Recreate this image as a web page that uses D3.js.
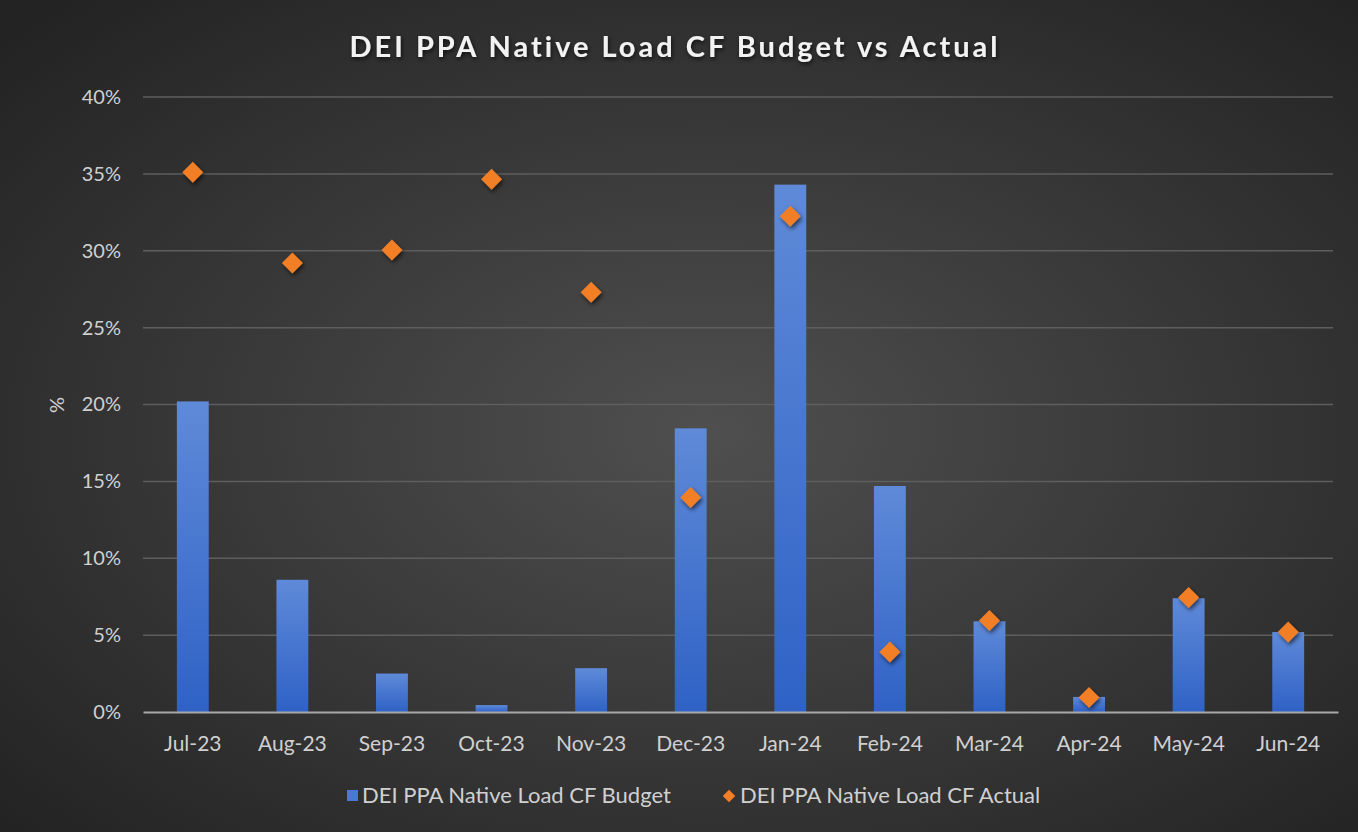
<!DOCTYPE html>
<html>
<head>
<meta charset="utf-8">
<script src="https://cdn.jsdelivr.net/npm/d3@7"></script>
<style>
  html, body { margin: 0; padding: 0; background: #1e1e1e; }
  #chart { width: 1358px; height: 832px; }
  text { font-family: Lato, "Open Sans", sans-serif; }
</style>
</head>
<body>
<div id="chart"></div>
<script>
'use strict';
const months = ["Jul-23", "Aug-23", "Sep-23", "Oct-23", "Nov-23", "Dec-23",
                "Jan-24", "Feb-24", "Mar-24", "Apr-24", "May-24", "Jun-24"];
const budget = [0.202, 0.086, 0.025, 0.0045, 0.0285, 0.1845, 0.343, 0.147, 0.059, 0.0098, 0.074, 0.052];
const actual = [0.351, 0.292, 0.3005, 0.3465, 0.273, 0.1395, 0.3225, 0.039, 0.0595, 0.0095, 0.0745, 0.052];
const yTicks = [0, 0.05, 0.10, 0.15, 0.20, 0.25, 0.30, 0.35, 0.40];
const seriesNames = ["DEI PPA Native Load CF Budget", "DEI PPA Native Load CF Actual"];

const W = 1358, H = 832;
const margin = { top: 97, right: 20, bottom: 120, left: 143 };

const svg = d3.select("#chart").append("svg")
    .attr("width", W)
    .attr("height", H);

const defs = svg.append("defs");

const bg = defs.append("radialGradient")
    .attr("id", "bg")
    .attr("cx", "52%").attr("cy", "52%").attr("r", "70%");
bg.append("stop").attr("offset", "0%").attr("stop-color", "#4f4f4f");
bg.append("stop").attr("offset", "100%").attr("stop-color", "#232323");

const barGrad = defs.append("linearGradient")
    .attr("id", "barGrad")
    .attr("x1", 0).attr("y1", 0).attr("x2", 0).attr("y2", 1);
barGrad.append("stop").attr("offset", "0%").attr("stop-color", "#5f8ad8");
barGrad.append("stop").attr("offset", "100%").attr("stop-color", "#2f62c6");

const shadow = defs.append("filter").attr("id", "shadow")
    .attr("x", "-50%").attr("y", "-50%").attr("width", "200%").attr("height", "200%");
shadow.append("feDropShadow")
    .attr("dx", 1.5).attr("dy", 2.5).attr("stdDeviation", 2)
    .attr("flood-color", "#000").attr("flood-opacity", 0.6);

const titleShadow = defs.append("filter").attr("id", "titleShadow")
    .attr("x", "-10%").attr("y", "-50%").attr("width", "120%").attr("height", "200%");
titleShadow.append("feDropShadow")
    .attr("dx", 1).attr("dy", 2).attr("stdDeviation", 2)
    .attr("flood-color", "#000").attr("flood-opacity", 0.7);

svg.append("rect")
    .attr("width", W).attr("height", H)
    .attr("fill", "url(#bg)");

const width = W - margin.left - margin.right;
const height = 712 - margin.top;

const g = svg.append("g")
    .attr("transform", "translate(" + margin.left + "," + margin.top + ")");

const x = d3.scaleBand()
    .domain(months)
    .range([0, width])
    .paddingInner(0.68)
    .paddingOuter(0.34);

const y = d3.scaleLinear()
    .domain([0, 0.40])
    .range([height, 0]);

// gridlines
g.selectAll(".grid")
    .data(yTicks.slice(1))
    .enter().append("line")
    .attr("class", "grid")
    .attr("x1", 0)
    .attr("x2", width - 5)
    .attr("y1", function (d) { return y(d); })
    .attr("y2", function (d) { return y(d); })
    .style("stroke", "#5e5e5e")
    .style("stroke-width", 1.5);

// y axis labels
const yAxis = d3.axisLeft(y)
    .tickValues(yTicks)
    .tickFormat(d3.format(".0%"))
    .tickSize(0)
    .tickPadding(22);
const yg = g.append("g").call(yAxis);
yg.select(".domain").remove();
yg.selectAll("text")
    .style("fill", "#d0d0d0")
    .style("font-size", "20px");

// bars
g.selectAll(".bar")
    .data(budget)
    .enter().append("rect")
    .attr("class", "bar")
    .attr("x", function (d, i) { return x(months[i]); })
    .attr("y", function (d) { return y(d); })
    .attr("width", x.bandwidth())
    .attr("height", function (d) { return height - y(d); })
    .style("fill", "url(#barGrad)");

// x axis
const xAxis = d3.axisBottom(x).tickSize(0).tickPadding(24);
const xg = g.append("g")
    .attr("transform", "translate(0," + height + ")")
    .call(xAxis);
xg.select(".domain")
    .style("stroke", "#a8a8a8")
    .style("stroke-width", 2);
xg.selectAll("text")
    .style("fill", "#d0d0d0")
    .style("font-size", "21px");

// diamonds
const diamond = d3.symbol().type(d3.symbolDiamond2).size(280);
g.selectAll(".pt")
    .data(actual)
    .enter().append("path")
    .attr("class", "pt")
    .attr("d", diamond)
    .attr("transform", function (d, i) {
        return "translate(" + (x(months[i]) + x.bandwidth() / 2) + "," + y(d) + ")";
    })
    .style("fill", "#f27f27")
    .attr("filter", "url(#shadow)");

// y axis title
svg.append("text")
    .attr("transform", "translate(64,405) rotate(-90)")
    .attr("text-anchor", "middle")
    .style("fill", "#d0d0d0")
    .style("font-size", "20px")
    .text("%");

// title
svg.append("text")
    .attr("x", 675)
    .attr("y", 57)
    .attr("text-anchor", "middle")
    .style("fill", "#f2f2f2")
    .style("font-size", "29px")
    .style("font-weight", "bold")
    .style("letter-spacing", "3px")
    .attr("filter", "url(#titleShadow)")
    .text("DEI PPA Native Load CF Budget vs Actual");

// legend
const legend = svg.append("g").attr("transform", "translate(0,796)");
legend.append("rect")
    .attr("x", 347).attr("y", -6)
    .attr("width", 11).attr("height", 11)
    .style("fill", "#4a78d4");
legend.append("text")
    .attr("x", 362).attr("y", 7)
    .style("fill", "#d0d0d0")
    .style("font-size", "22px")
    .text(seriesNames[0]);
legend.append("path")
    .attr("d", d3.symbol().type(d3.symbolDiamond2).size(100))
    .attr("transform", "translate(729,0)")
    .style("fill", "#f27f27");
legend.append("text")
    .attr("x", 740).attr("y", 7)
    .style("fill", "#d0d0d0")
    .style("font-size", "22px")
    .text(seriesNames[1]);
</script>
</body>
</html>
